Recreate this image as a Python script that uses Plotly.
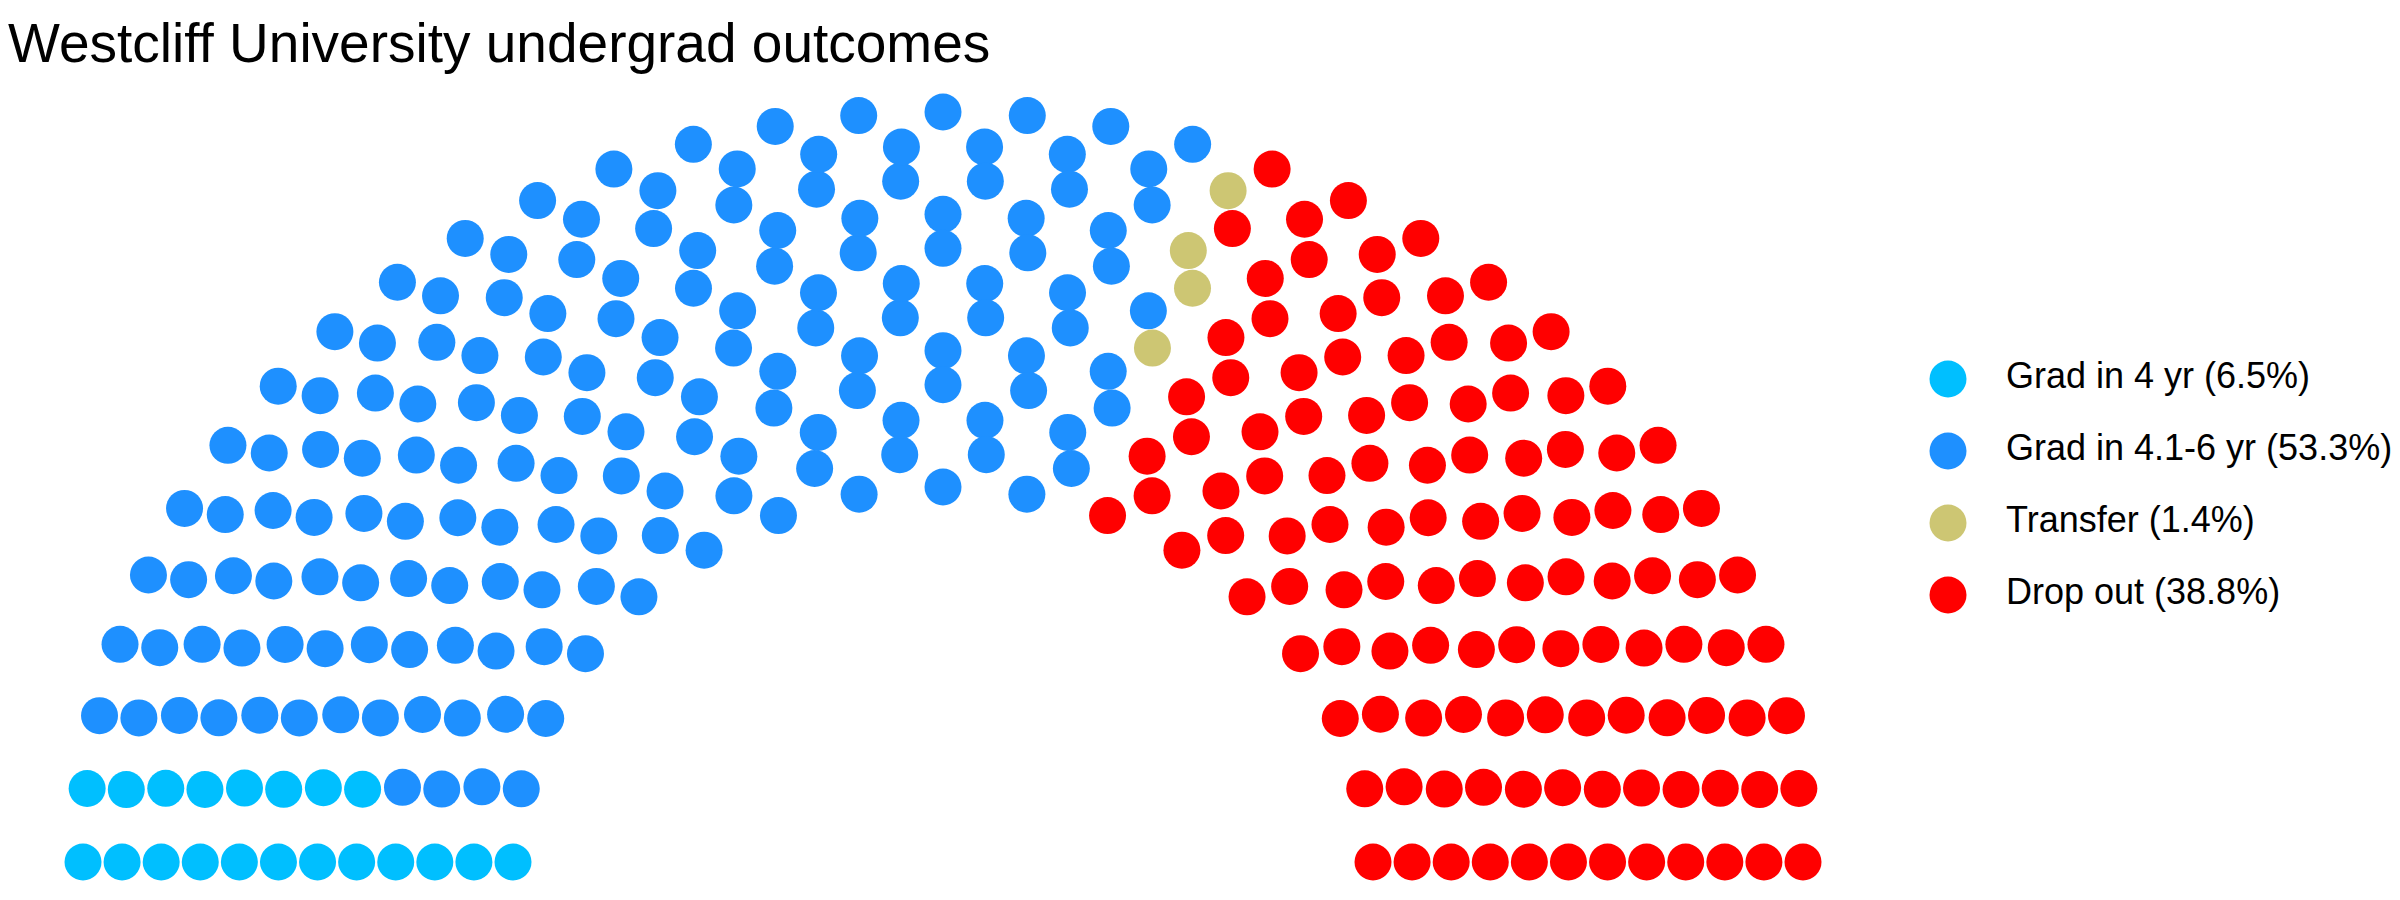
import numpy as np
import plotly.graph_objects as go

title = "Westcliff University undergrad outcomes"
outcomes = ["Grad in 4 yr", "Grad in 4.1-6 yr", "Transfer", "Drop out"]
shares = [6.5, 53.3, 1.4, 38.8]
seats = [20, 160, 4, 116]
colours = ["#00BFFF", "#1E90FF", "#CDC673", "#FF0000"]
n_rows = 12


def semicircle_layout(total, rows):
    # same idea as ggparliament: rows of radius 1..2, seats spread evenly per row
    radii = np.linspace(1, 2, rows)
    counts = []
    left = total
    for i in range(rows):
        c = int(round(left * radii[i] / radii[i:].sum()))
        counts.append(c)
        left -= c
    pts = []
    for r, c in zip(radii, counts):
        for t in np.linspace(0, np.pi, c):
            pts.append((round(float(t), 9), float(r)))
    # fill seats from the left, angle first
    pts.sort(key=lambda p: (-p[0], -p[1]))
    x = [r * np.cos(t) for t, r in pts]
    y = [r * np.sin(t) for t, r in pts]
    return x, y


xs, ys = semicircle_layout(sum(seats), n_rows)

fig = go.Figure()
start = 0
for name, n, col in zip(outcomes, seats, colours):
    fig.add_trace(go.Scatter(
        x=xs[start:start + n], y=ys[start:start + n],
        mode="markers", name=name, showlegend=False, hoverinfo="skip",
        marker=dict(size=37, color=col, line=dict(width=0)),
    ))
    start += n

# hand-made legend on its own axes so the circles can be big
labels = [f"{o} ({s}%)" for o, s in zip(outcomes, shares)]
idx = list(range(len(outcomes)))
fig.add_trace(go.Scatter(
    x=[40] * len(idx), y=idx, mode="markers", showlegend=False, hoverinfo="skip",
    marker=dict(size=37, color=colours, line=dict(width=0)),
    xaxis="x2", yaxis="y2",
))
fig.add_trace(go.Scatter(
    x=[98] * len(idx), y=idx, mode="text", text=labels, textposition="middle right",
    textfont=dict(size=36, color="black", family="Liberation Sans"),
    showlegend=False, hoverinfo="skip", xaxis="x2", yaxis="y2",
))

# page body adds an 8px margin, so the figure is 8px smaller each way
W, H = 2392, 892
fig.update_layout(
    width=W, height=H,
    margin=dict(l=0, r=0, t=0, b=0),
    paper_bgcolor="white", plot_bgcolor="white",
    title=dict(text=title, x=0, xanchor="left", y=1 - 35 / H, yanchor="middle",
               font=dict(size=55, color="black", family="Liberation Sans")),
    xaxis=dict(range=[-2.15, 2.15], domain=[10.5 / W, 1859.5 / W], visible=False),
    yaxis=dict(range=[-0.1013, 2.2773], domain=[0, 1], visible=False),
    xaxis2=dict(range=[0, 492], domain=[1900 / W, 1], visible=False, anchor="y2"),
    yaxis2=dict(range=[7.236, -5.153], domain=[0, 1], visible=False, anchor="x2"),
)

fig.write_html("out.html")
